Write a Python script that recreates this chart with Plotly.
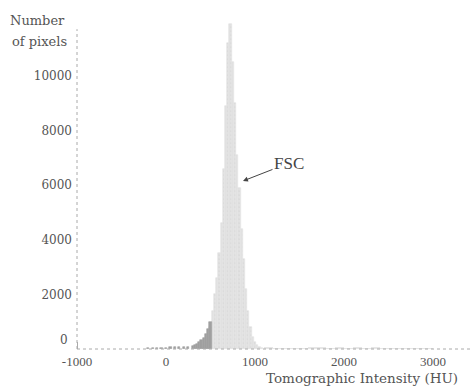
import plotly.graph_objects as go

# Main tissue histogram (light grey), 25 HU bins
main_hu = [400, 425, 450, 475, 500, 525, 550, 575, 600, 625, 650, 675, 700, 725,
           750, 775, 800, 825, 850, 875, 900, 925, 950, 975, 1000, 1025, 1050, 1075]
main_counts = [100, 150, 250, 450, 800, 1400, 2000, 2600, 3500, 4600, 6600, 8900, 11200, 11900,
               10500, 9000, 7100, 5900, 4400, 3300, 2200, 1400, 800, 450, 250, 150, 90, 50]

# Secondary component (darker grey) on the low side of the peak
dark_hu = [-200, -150, -100, -50, 0, 50, 100, 150, 200, 250, 300, 325, 350, 375, 400, 425,
           450, 475, 500]
dark_counts = [30, 40, 40, 50, 50, 60, 60, 70, 60, 80, 120, 160, 200, 260, 330, 420,
               550, 750, 1000]

# Faint high-intensity tail, 100 HU bins
tail_hu = [1150, 1250, 1350, 1450, 1550, 1650, 1750, 1850, 1950, 2050, 2150, 2250,
           2350, 2450, 2550, 2650, 2750, 2850, 2950]
tail_counts = [40, 35, 30, 35, 30, 40, 60, 30, 50, 35, 45, 30, 40, 30, 25, 30, 25, 35, 30]

# Air spike
air_hu = [-1000]
air_counts = [250]

y_ticks = [2000, 4000, 6000, 8000, 10000]
y_labels = ["2000", "4000", "6000", "8000", "10000"]
x_ticks = [-1000, 0, 1000, 2000, 3000]
x_labels = ["-1000", "0", "1000", "2000", "3000"]

serif_wide = "DejaVu Serif, serif"
serif = "Liberation Serif, Times New Roman, serif"
txt = "#555555"

fig = go.Figure()
fig.add_trace(go.Bar(x=tail_hu, y=tail_counts, width=100,
                     marker=dict(color="#e6e6e6", line=dict(width=0))))
fig.add_trace(go.Bar(x=main_hu, y=main_counts, width=25,
                     marker=dict(color="#e2e2e2", line=dict(width=0.6, color="#e2e2e2"),
                                 pattern=dict(shape=".", fgcolor="#cccccc", size=4, solidity=0.15))))
fig.add_trace(go.Bar(x=dark_hu, y=dark_counts, width=25,
                     marker=dict(color="#a0a0a0", line=dict(width=0.6, color="#a0a0a0"))))
fig.add_trace(go.Bar(x=air_hu, y=air_counts, width=15,
                     marker=dict(color="#aaaaaa", line=dict(width=0))))

fig.update_layout(
    width=470, height=389,
    margin=dict(l=77, r=0, t=21, b=40),
    paper_bgcolor="white", plot_bgcolor="white",
    barmode="overlay", bargap=0,
    showlegend=False,
    font=dict(family=serif, color=txt, size=12),
    xaxis=dict(range=[-1000, 3416], tickvals=x_ticks, ticktext=x_labels,
               showgrid=False, zeroline=False, showline=False, ticks="",
               ticklabelstandoff=3,
               tickfont=dict(family=serif, size=13, color=txt)),
    yaxis=dict(range=[0, 12015], tickvals=y_ticks, ticktext=y_labels,
               showgrid=False, zeroline=False, showline=False, ticks="",
               ticklabelstandoff=4,
               tickfont=dict(family=serif_wide, size=12, color=txt)),
    shapes=[
        dict(type="line", xref="paper", yref="paper", x0=0, x1=1, y0=0, y1=0,
             line=dict(color="#aaaaaa", width=1, dash="dot")),
        dict(type="line", xref="paper", yref="paper", x0=0, x1=0, y0=0, y1=0.975,
             line=dict(color="#aaaaaa", width=1, dash="dot")),
    ],
    annotations=[
        dict(text="Number", xref="paper", yref="paper", x=-10 / 393, y=(349 - 20) / 328,
             xanchor="right", yanchor="middle", showarrow=False,
             font=dict(family=serif_wide, size=13, color=txt)),
        dict(text="of pixels", xref="paper", yref="paper", x=-8 / 393, y=(349 - 42) / 328,
             xanchor="right", yanchor="middle", showarrow=False,
             font=dict(family=serif_wide, size=13, color=txt)),
        dict(text="0", xref="paper", yref="paper", x=-7 / 393, y=9 / 328,
             xanchor="right", yanchor="middle", showarrow=False,
             font=dict(family=serif_wide, size=12, color=txt)),
        dict(text="Tomographic Intensity (HU)", xref="paper", yref="paper",
             x=(460 - 77) / 393, y=-(378 - 349) / 328,
             xanchor="right", yanchor="middle", showarrow=False,
             font=dict(family=serif_wide, size=13.5, color=txt)),
        dict(text="FSC", x=865, y=6154, xref="x", yref="y", ax=46, ay=-18,
             showarrow=True, arrowhead=2, arrowsize=1, arrowwidth=1, arrowcolor="#444444",
             font=dict(family=serif, size=17, color="#444444")),
    ],
)

fig.write_html("out.html")
